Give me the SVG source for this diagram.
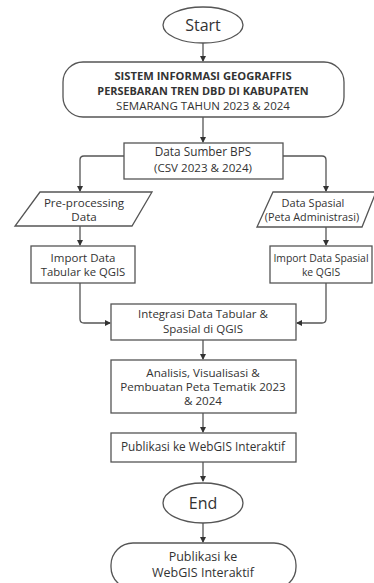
<svg xmlns="http://www.w3.org/2000/svg" width="374" height="583" viewBox="0 0 374 583">
<defs>
<marker id="ah" markerWidth="6" markerHeight="6" refX="5" refY="3" orient="auto" markerUnits="userSpaceOnUse">
<path d="M0,0 L6,3 L0,6 Z" fill="#333"/>
</marker>
<style>
.s{fill:#fff;stroke:#555;stroke-width:1.3}
.t{font-family:"Open Sans","Noto Sans",sans-serif;font-size:11.6px;fill:#333;text-anchor:middle}
.b{font-weight:bold}
.c{fill:none;stroke:#555;stroke-width:1.3;marker-end:url(#ah)}
</style>
</defs>
<rect width="374" height="583" fill="#fff"/>
<g id="connectors">
<path class="c" d="M203,43 V61"/>
<path class="c" d="M203,117 V142"/>
<path class="c" d="M124,156 H84 Q80,156 80,160 V191"/>
<path class="c" d="M283,156 H322 Q326,156 326,160 V191"/>
<path class="c" d="M80,226 V245"/>
<path class="c" d="M326,227 V245"/>
<path class="c" d="M80,283 V319 Q80,323 84,323 H110"/>
<path class="c" d="M326,283 V319 Q326,323 322,323 H297"/>
<path class="c" d="M203,340 V359"/>
<path class="c" d="M203,413 V432"/>
<path class="c" d="M203,462 V481"/>
<path class="c" d="M203,523 V542"/>
</g>
<g id="start">
<ellipse class="s" cx="203" cy="25" rx="40" ry="18"/>
<text class="t" x="203" y="31" style="font-size:16px">Start</text>
</g>
<g id="title">
<rect class="s" x="63" y="62" width="281" height="55" rx="20"/>
<text class="t b" x="203" y="80" style="font-size:11.2px">SISTEM INFORMASI GEOGRAFFIS</text>
<text class="t b" x="203" y="95" style="font-size:10.9px">PERSEBARAN TREN DBD DI KABUPATEN</text>
<text class="t" x="203" y="110" style="font-size:11.5px">SEMARANG TAHUN 2023 &amp; 2024</text>
</g>
<g id="bps">
<rect class="s" x="124" y="143" width="159" height="36"/>
<text class="t" x="203" y="156" style="font-size:11.8px">Data Sumber BPS</text>
<text class="t" x="203" y="172" style="font-size:11.6px">(CSV 2023 &amp; 2024)</text>
</g>
<g id="preprocessing">
<polygon class="s" points="40,192 152,192 132,226 15,226"/>
<text class="t" x="84" y="207">Pre-processing</text>
<text class="t" x="84" y="221">Data</text>
</g>
<g id="spasial">
<polygon class="s" points="273,192 376,192 362,227 257,227"/>
<text class="t" x="313" y="207" style="font-size:11px">Data Spasial</text>
<text class="t" x="312" y="221" style="font-size:10.8px">(Peta Administrasi)</text>
</g>
<g id="import-tabular">
<rect class="s" x="31" y="246" width="104" height="37"/>
<text class="t" x="83" y="262" style="font-size:11.5px">Import Data</text>
<text class="t" x="83" y="276" style="font-size:11.3px">Tabular ke QGIS</text>
</g>
<g id="import-spasial">
<rect class="s" x="270" y="246" width="102" height="37"/>
<text class="t" x="321" y="262" style="font-size:10.4px">Import Data Spasial</text>
<text class="t" x="321" y="276" style="font-size:10.4px">ke QGIS</text>
</g>
<g id="integrasi">
<rect class="s" x="111" y="304" width="185" height="36"/>
<text class="t" x="203" y="318" style="font-size:11.5px">Integrasi Data Tabular &amp;</text>
<text class="t" x="203" y="333" style="font-size:11.5px">Spasial di QGIS</text>
</g>
<g id="analisis">
<rect class="s" x="111" y="360" width="185" height="53"/>
<text class="t" x="203" y="377">Analisis, Visualisasi &amp;</text>
<text class="t" x="203" y="391">Pembuatan Peta Tematik 2023</text>
<text class="t" x="203" y="405">&amp; 2024</text>
</g>
<g id="publikasi">
<rect class="s" x="111" y="433" width="185" height="29"/>
<text class="t" x="203" y="451" style="font-size:11.8px">Publikasi ke WebGIS Interaktif</text>
</g>
<g id="end">
<ellipse class="s" cx="203" cy="503" rx="40" ry="20"/>
<text class="t" x="203" y="509" style="font-size:16px">End</text>
</g>
<g id="publikasi-final">
<rect class="s" x="111" y="543" width="185" height="46" rx="22"/>
<text class="t" x="203" y="561" style="font-size:12.5px">Publikasi ke</text>
<text class="t" x="203" y="577" style="font-size:12.5px">WebGIS Interaktif</text>
</g>
</svg>
